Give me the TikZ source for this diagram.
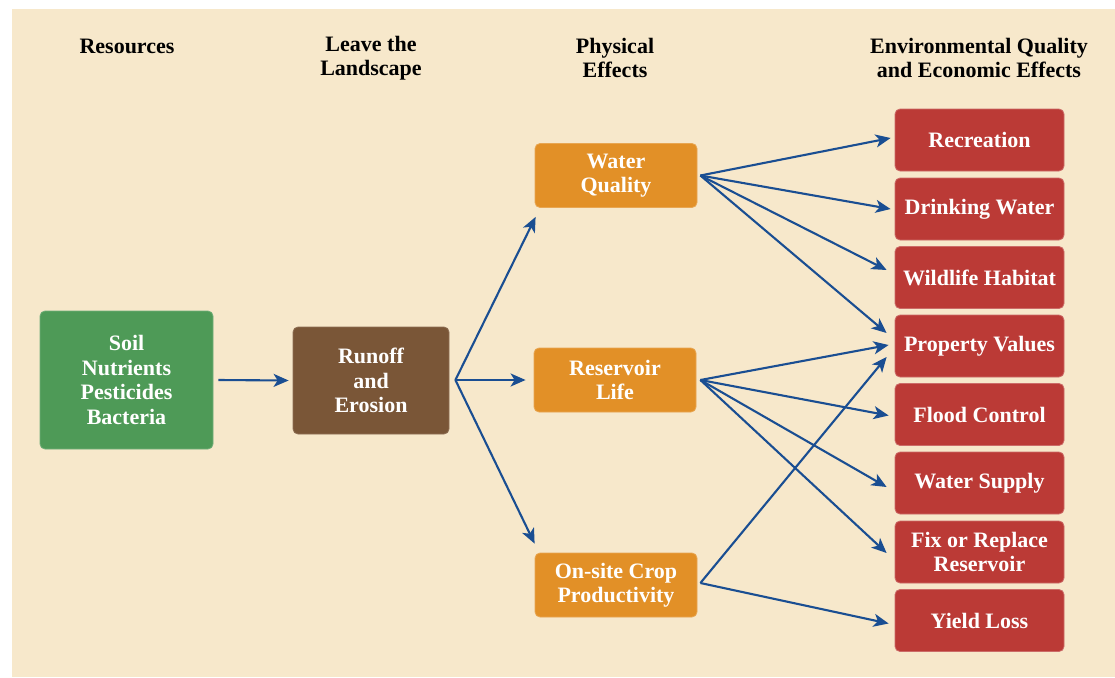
\documentclass[tikz,border=0pt]{standalone}
\usepackage{fontspec}
\setmainfont{Liberation Serif}
\usetikzlibrary{arrows.meta,calc}
\definecolor{bgbeige}{HTML}{F7E8CB}
\definecolor{boxgreen}{HTML}{4E9A57}
\definecolor{boxbrown}{HTML}{7A5637}
\definecolor{boxorange}{HTML}{E29027}
\definecolor{boxred}{HTML}{BB3A36}
\definecolor{arrowblue}{HTML}{1A4E92}
\begin{document}
\begin{tikzpicture}[x=1pt,y=-1pt,
  box/.style={rectangle, rounded corners=5pt, inner sep=0pt, align=center,
    text=white, font=\fontsize{22}{24.5}\selectfont\bfseries, line width=0.8pt},
  greenbox/.style={box, fill=boxgreen, draw=boxgreen!80!white, minimum width=173pt, minimum height=138pt},
  brownbox/.style={box, fill=boxbrown, draw=boxbrown!85!white, minimum width=156pt, minimum height=107pt},
  orangebox/.style={box, fill=boxorange, draw=boxorange!80!white, minimum width=162pt, minimum height=64pt},
  redbox/.style={box, fill=boxred, draw=boxred!75!white, minimum width=169pt, minimum height=62pt},
  header/.style={align=center, inner sep=0pt, font=\fontsize{22}{24}\selectfont\bfseries, text=black},
  conn/.style={draw=arrowblue, line width=2.1pt, -{Stealth[length=15pt,width=13pt,inset=4pt]}}
]
\useasboundingbox (0,0) rectangle (1115,677);
\fill[white] (0,0) rectangle (1115,677);
\fill[bgbeige] (12,9.5) rectangle (1115,677);

% headers
\node[header] (h1) at (127,46) {Resources};
\node[header] (h2) at (371,58) {Leave the\\Landscape};
\node[header] (h3) at (615,58) {Physical\\Effects};
\node[header] (h4) at (979,58) {Environmental Quality\\and Economic Effects};

% boxes
\node[greenbox] (res) at (126.5,380) {Soil\\Nutrients\\Pesticides\\Bacteria};
\node[brownbox] (run) at (371,380.5) {Runoff\\and\\Erosion};
\node[orangebox] (wq) at (616,175.5) {Water\\Quality};
\node[orangebox] (rl) at (615,380) {Reservoir\\Life};
\node[orangebox] (os) at (616,585) {On-site Crop\\Productivity};

\node[redbox] (rec) at (979.5,140) {Recreation};
\node[redbox] (drink) at (979.5,209) {Drinking Water};
\node[redbox] (wild) at (979.5,277.5) {Wildlife Habitat};
\node[redbox] (prop) at (979.5,346) {Property Values};
\node[redbox] (flood) at (979.5,414.5) {Flood Control};
\node[redbox] (water) at (979.5,483) {Water Supply};
\node[redbox] (fix) at (979.5,552) {Fix or Replace\\Reservoir};
\node[redbox] (yield) at (979.5,620.5) {Yield Loss};

% connection points
\coordinate (runout) at ($(run.east)+(6,-0.5)$);
\coordinate (wqout) at ($(wq.east)+(3,0)$);
\coordinate (rlout) at ($(rl.east)+(4,0)$);
\coordinate (osout) at ($(os.east)+(3,-2)$);

% arrows
\draw[conn] ($(res.east)+(5,0)$) -- ($(run.west)+(-4,0)$);
\draw[conn] (runout) -- ($(wq.south west)+(1,9)$);
\draw[conn] (runout) -- ($(rl.west)+(-8,0)$);
\draw[conn] (runout) -- ($(os.north west)+(0,-9)$);

\draw[conn] (wqout) -- ($(rec.west)+(-4,-2)$);
\draw[conn] (wqout) -- ($(drink.west)+(-4,0)$);
\draw[conn] (wqout) -- ($(wild.west)+(-8,-7.5)$);
\draw[conn] (wqout) -- ($(prop.west)+(-8,-13)$);

\draw[conn] (rlout) -- ($(prop.west)+(-6,-1)$);
\draw[conn] (rlout) -- ($(flood.west)+(-6,1)$);
\draw[conn] (rlout) -- ($(water.west)+(-8,4)$);
\draw[conn] (rlout) -- ($(fix.west)+(-8,1)$);

\draw[conn] (osout) -- ($(prop.west)+(-8,11)$);
\draw[conn] (osout) -- ($(yield.west)+(-6,3)$);
\end{tikzpicture}
\end{document}
